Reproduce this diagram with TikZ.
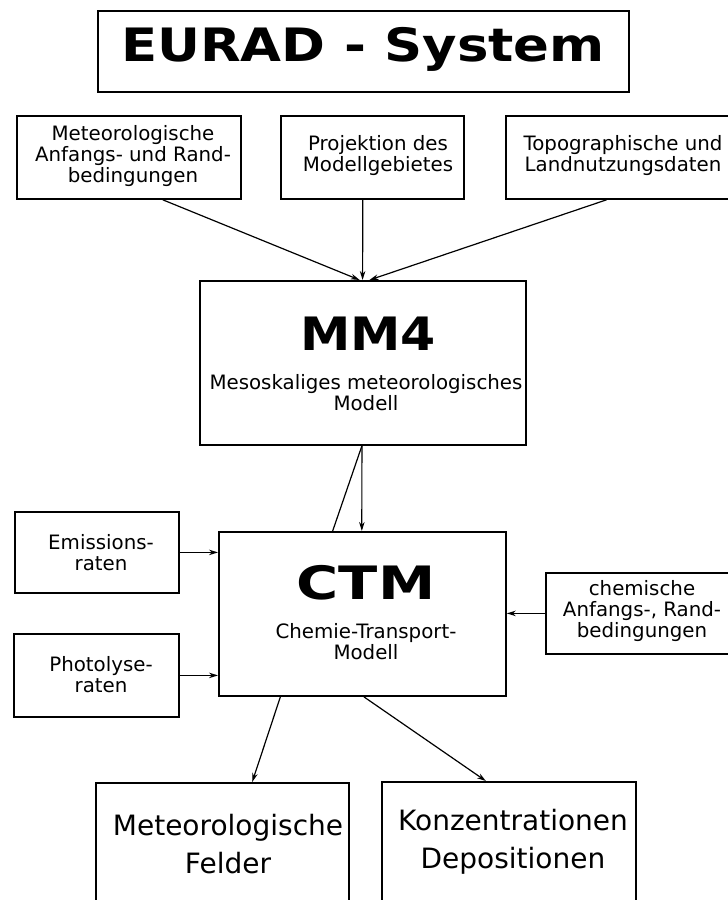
\documentclass[tikz,border=0pt]{standalone}
\usepackage{fontspec}
\setmainfont{DejaVu Sans}
\usetikzlibrary{arrows.meta,calc}
\begin{document}
\begin{tikzpicture}[x=1pt,y=-1pt,
  box/.style={draw, line width=1.8pt, inner sep=0pt, anchor=north west},
  lbl/.style={align=center, inner sep=0pt, font=\fontsize{19.8}{21}\selectfont},
  biglbl/.style={align=center, inner sep=0pt, font=\fontsize{28}{38}\selectfont},
  ttl/.style={inner sep=0pt, font=\bfseries\fontsize{46}{50}\selectfont},
  arr/.style={-{Stealth[length=9pt,width=5.5pt]}, line width=1.2pt},
  plain/.style={line width=1.2pt}]
\useasboundingbox (0,0) rectangle (728,900);
\clip (0,0) rectangle (728,900);

% boxes
\node[box, minimum width=531pt, minimum height=81pt] (title) at (97,10) {};
\node[box, minimum width=224pt, minimum height=83pt] (b1) at (16,115) {};
\node[box, minimum width=183pt, minimum height=83pt] (b2) at (280,115) {};
\node[box, minimum width=240pt, minimum height=83pt] (b3) at (505,115) {};
\node[box, minimum width=326pt, minimum height=164pt] (mm4) at (199,280) {};
\node[box, minimum width=164pt, minimum height=81pt] (emis) at (14,511) {};
\node[box, minimum width=287pt, minimum height=164pt] (ctm) at (218,531) {};
\node[box, minimum width=200pt, minimum height=81pt] (chem) at (545,572) {};
\node[box, minimum width=165pt, minimum height=83pt] (phot) at (13,633) {};
\node[box, minimum width=253pt, minimum height=140pt] (met) at (95,782) {};
\node[box, minimum width=254pt, minimum height=140pt] (konz) at (381,781) {};

% texts
\node[ttl] (titlet) at (363,49) {\scalebox{1.15}[1]{EURAD - System}};
\node[lbl] (b1t) at (133,156) {Meteorologische\\Anfangs- und Rand-\\bedingungen};
\node[lbl] (b2t) at (378,156) {Projektion des\\Modellgebietes};
\node[lbl] (b3t) at (623,156) {Topographische und\\Landnutzungsdaten};
\node[ttl] (mm4t) at (368,334) {\scalebox{1.1}[1]{MM4}};
\node[lbl] (mm4s) at (366,393) {Mesoskaliges meteorologisches\\Modell};
\node[lbl] (emist) at (101,553) {Emissions-\\raten};
\node[ttl] (ctmt) at (366,583) {\scalebox{1.25}[1]{CTM}};
\node[lbl] (ctms) at (366,642) {Chemie-Transport-\\Modell};
\node[lbl] (chemt) at (642,611) {chemische\\Anfangs-, Rand-\\bedingungen};
\node[lbl] (phott) at (101,675) {Photolyse-\\raten};
\node[biglbl] (mett) at (228,844) {Meteorologische\\Felder};
\node[biglbl] (konzt) at (513,842) {Konzentrationen\\Depositionen};

% connectors
\draw[arr] ($(b1.south west)!0.65!(b1.south east)$) -- ($(mm4.north west)!0.49!(mm4.north east)$);
\draw[arr] ($(b2.south west)!0.448!(b2.south east)$) -- ($(mm4.north west)!0.499!(mm4.north east)$);
\draw[arr] ($(b3.south west)!0.42!(b3.south east)$) -- ($(mm4.north west)!0.52!(mm4.north east)$);
\draw[plain] ($(mm4.south west)!0.497!(mm4.south east)$) -- ($(ctm.north west)!0.397!(ctm.north east)$);
\draw[arr] ($(mm4.south west)!0.497!(mm4.south east)$) -- ($(ctm.north west)!0.498!(ctm.north east)$);
\draw[arr] (emis.east) -- (emis.east -| ctm.west);
\draw[arr] (phot.east) -- (phot.east -| ctm.west);
\draw[arr] (chem.west) -- (chem.west -| ctm.east);
\draw[arr] ($(ctm.south west)!0.216!(ctm.south east)$) -- ($(met.north west)!0.617!(met.north east)$);
\draw[arr] ($(ctm.south west)!0.505!(ctm.south east)$) -- ($(konz.north west)!0.41!(konz.north east)$);
\end{tikzpicture}
\end{document}
